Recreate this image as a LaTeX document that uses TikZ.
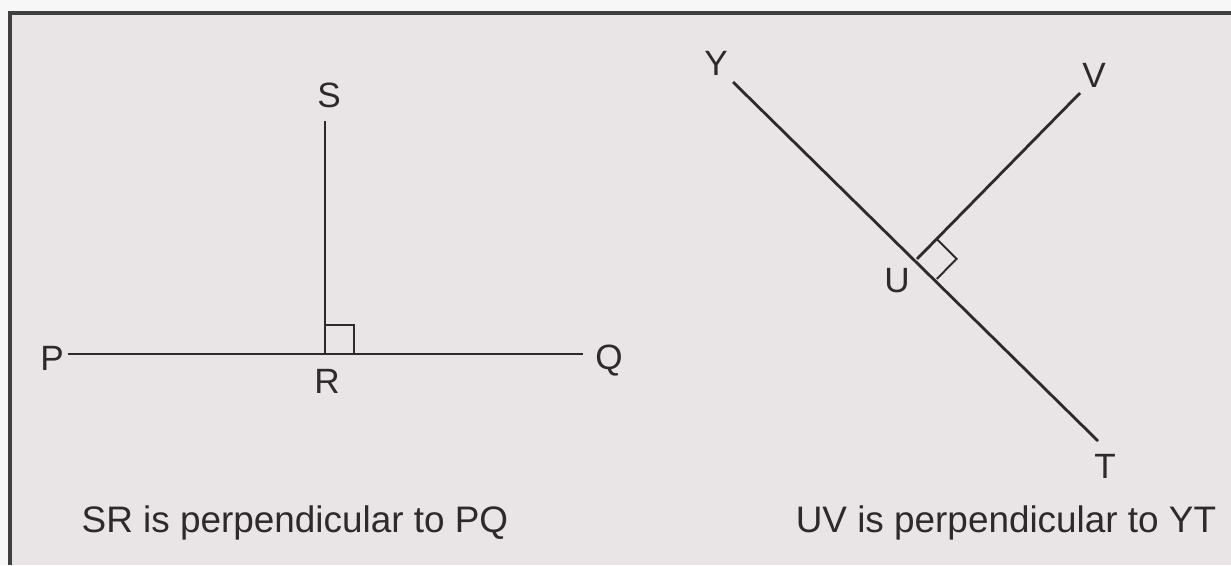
\documentclass[tikz,border=0pt]{standalone}
\usepackage{fontspec}
\setmainfont{Liberation Sans}
\usetikzlibrary{calc}
\definecolor{paper}{RGB}{233,228,230}
\definecolor{ink}{RGB}{45,42,44}
\begin{document}
\begin{tikzpicture}[x=0.02cm, y=-0.02cm,
    seg/.style={draw=ink, line width=1.6pt},
    rightmark/.style={draw=ink, line width=1.1pt},
    lbl/.style={inner sep=0pt, anchor=base, text=ink, font=\fontsize{20}{24}\selectfont},
    caption/.style={inner sep=0pt, anchor=base, text=ink, font=\fontsize{21}{25}\selectfont}]
  \useasboundingbox (0,0) rectangle (1231,565);
  \fill[white!97!black] (0,0) rectangle (1231,565);

  % Frame
  \fill[paper] (10,13) rectangle (1231,565);
  \draw[draw=ink!90, line width=2.2pt] (10,565) -- (10,13) -- (1231,13);

  % Left figure
  \coordinate (P) at (68,354);
  \coordinate (Q) at (583,354);
  \coordinate (R) at (325,354);
  \coordinate (S) at (325,121);
  \draw[seg] (P) -- (Q);
  \draw[seg] (R) -- (S);
  \draw[rightmark] ($(R)+(0,-29)$) -- ($(R)+(29,-29)$) -- ($(R)+(29,0)$);

  \node[lbl] (lS) at (329,107) {S};
  \node[lbl] (lP) at (52,370) {P};
  \node[lbl] (lQ) at (609,369) {Q};
  \node[lbl] (lR) at (327,393) {R};

  % Right figure
  \coordinate (Y) at (733,82);
  \coordinate (T) at (1098,441);
  \coordinate (U) at (917,259);
  \coordinate (V) at (1080,93);
  \draw[seg] (Y) -- (T);
  \draw[seg] (U) -- (V);
  \coordinate (ua) at ($(U)!16pt!(V)$);
  \coordinate (ub) at ($(U)!16pt!(T)$);
  \draw[rightmark] (ua) -- ($(ua)+(ub)-(U)$) -- (ub);

  \node[lbl] (lY) at (716,75) {Y};
  \node[lbl] (lV) at (1094,87) {V};
  \node[lbl] (lU) at (897,292) {U};
  \node[lbl] (lT) at (1105,478) {T};

  % Captions
  \node[caption] (capL) at (295,532) {SR is perpendicular to PQ};
  \node[caption] (capR) at (1006,532) {UV is perpendicular to YT};
\end{tikzpicture}
\end{document}
